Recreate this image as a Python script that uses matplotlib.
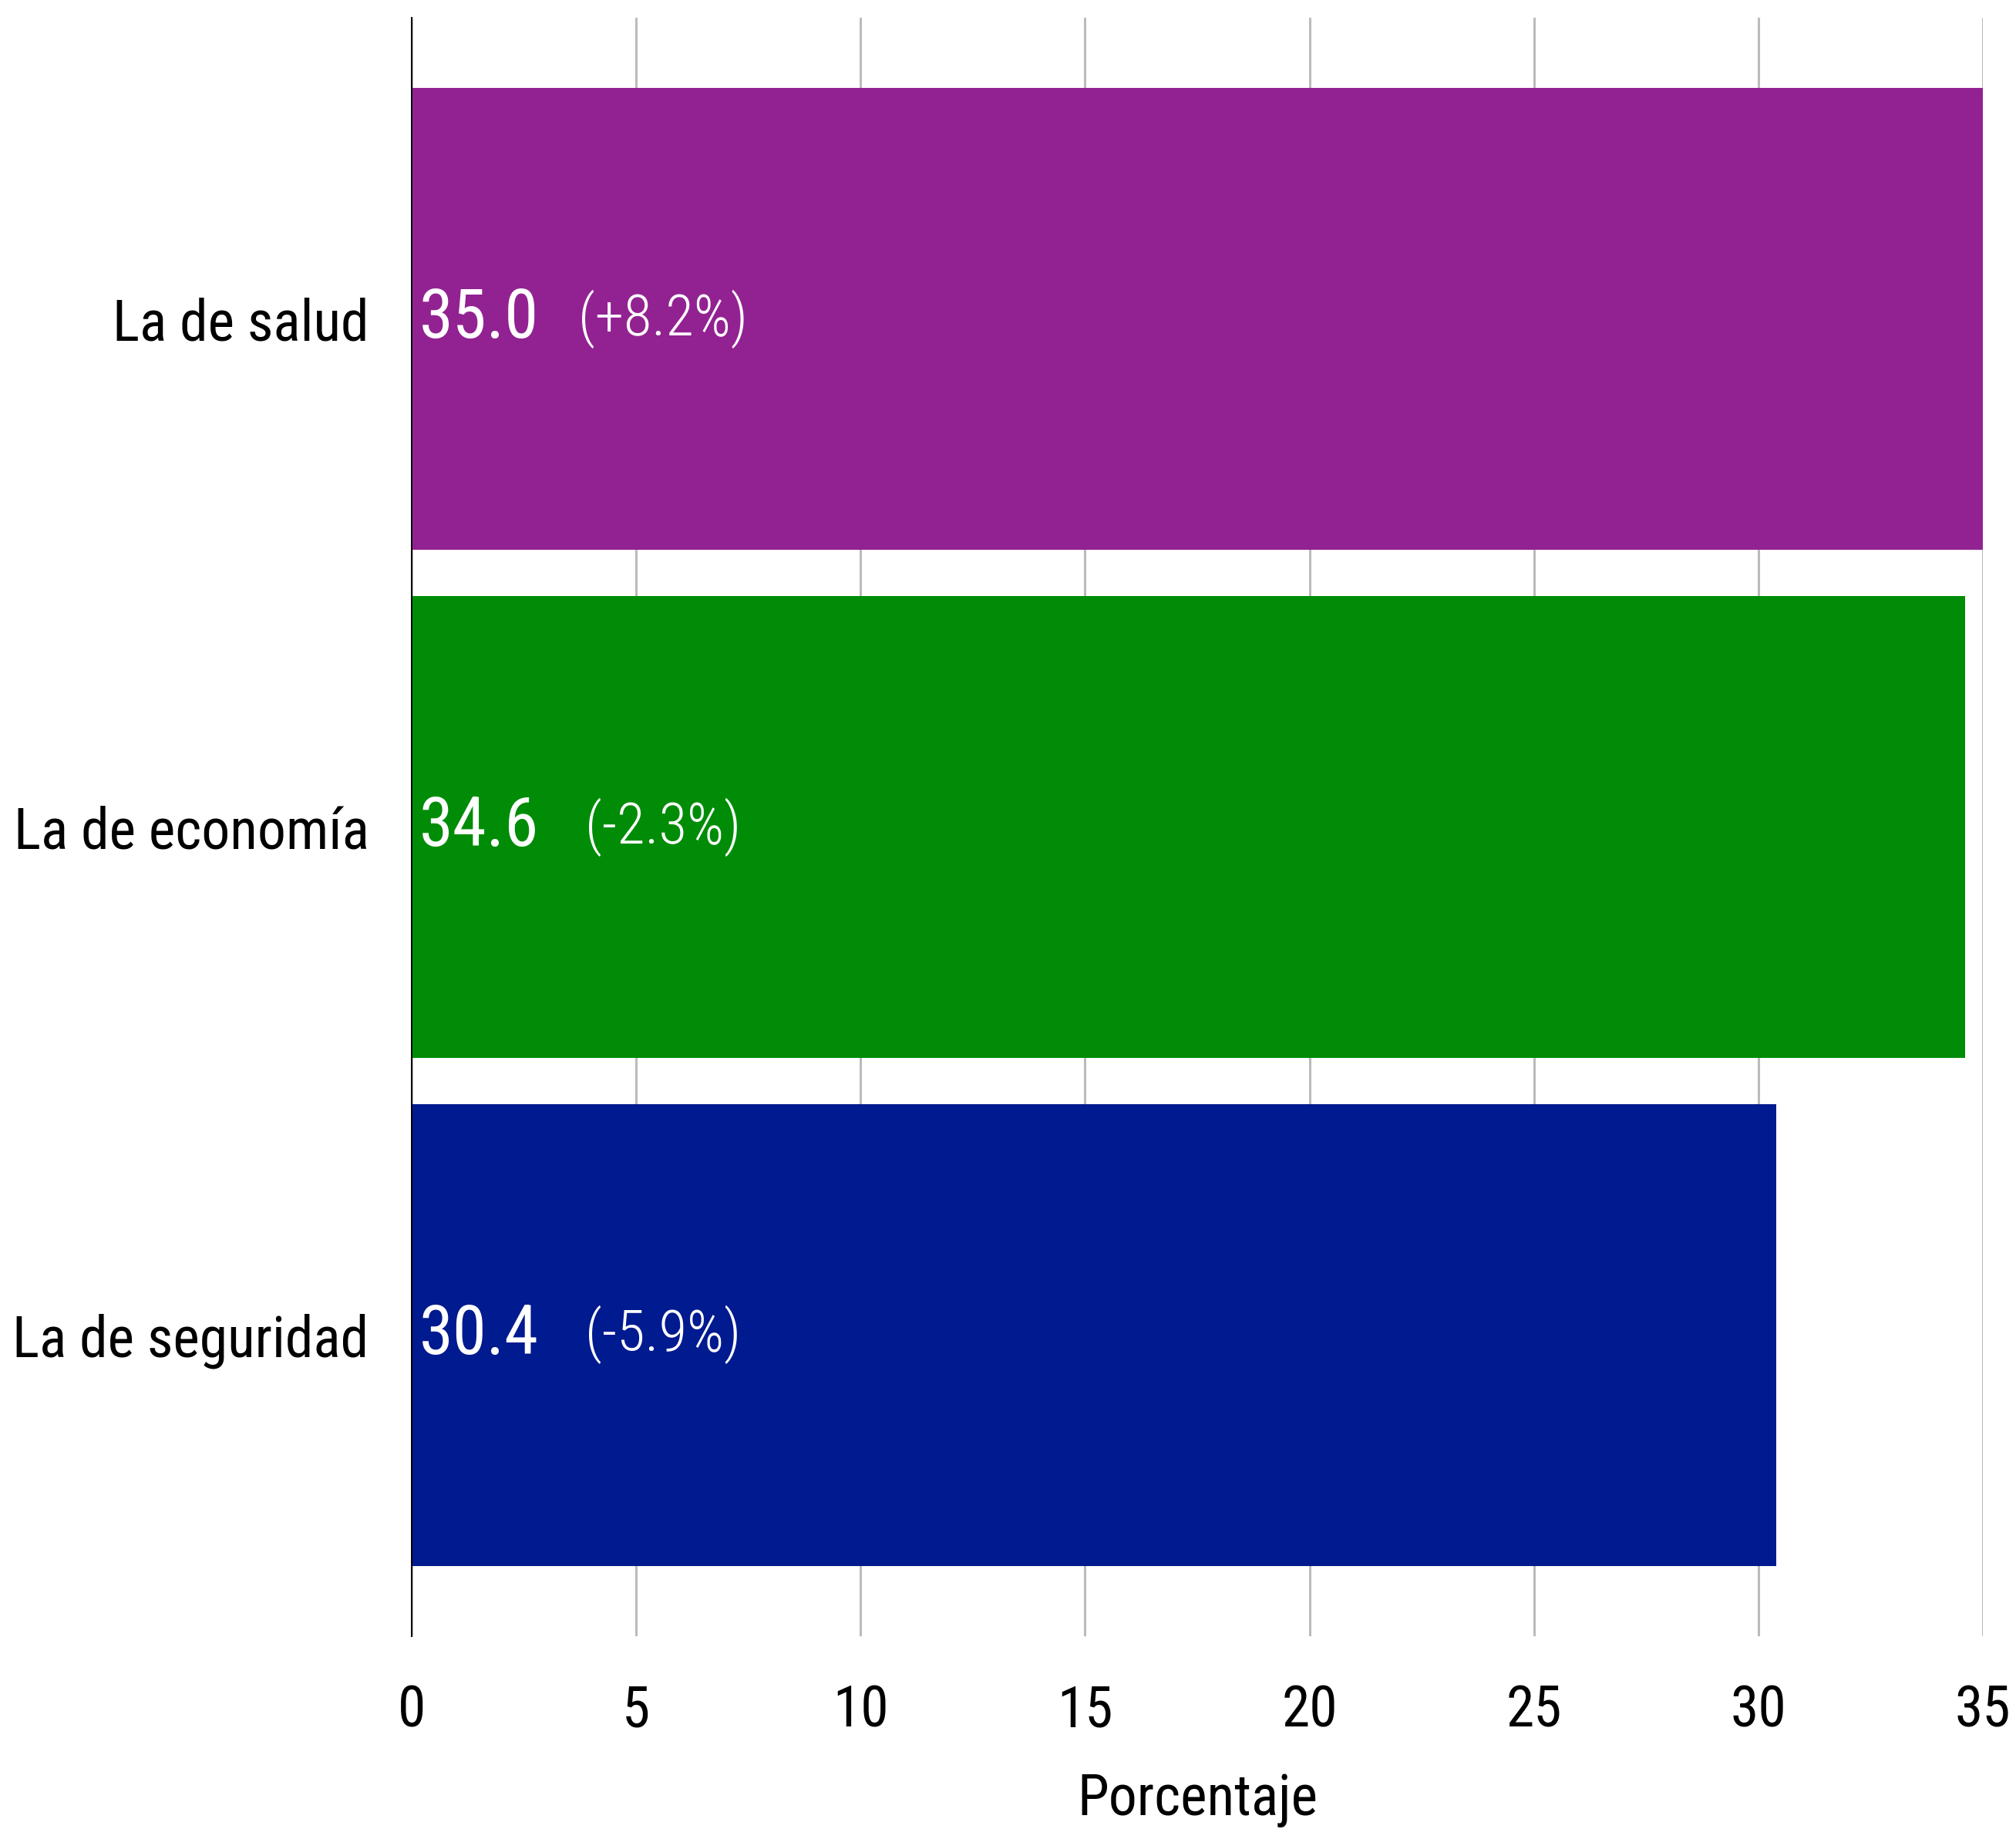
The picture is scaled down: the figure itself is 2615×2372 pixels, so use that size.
import matplotlib
matplotlib.use("Agg")
import matplotlib.pyplot as plt
from matplotlib import font_manager

categories = ["La de salud", "La de economía", "La de seguridad"]
values = [35.0, 34.6, 30.4]
changes = ["(+8.2%)", "(-2.3%)", "(-5.9%)"]
colors = ["#922291", "#008c07", "#001a8f"]
xticks = [0, 5, 10, 15, 20, 25, 30, 35]

avail = {f.name for f in font_manager.fontManager.ttflist}
fam = [f for f in ["Roboto Condensed", "Liberation Sans Narrow", "Roboto", "DejaVu Sans"] if f in avail]
plt.rcParams['font.family'] = fam

W, H = 2615, 2372
fig = plt.figure(figsize=(W / 100, H / 100), dpi=100)
ax = fig.add_axes([534 / W, 1 - 2122 / H, (2572 - 534) / W, (2122 - 23) / H])

ypos = list(range(len(categories)))
ax.barh(ypos, values, height=0.91, color=colors, zorder=2)
ax.set_ylim(len(categories) - 1 + 0.593, -0.593)
ax.set_xlim(0, 35)

ax.set_yticks(ypos)
ax.set_yticklabels(categories, fontsize=53)
ax.set_xticks(xticks)
ax.set_xticklabels([str(t) for t in xticks], fontsize=53)
ax.tick_params(axis='y', length=0, pad=40)
ax.tick_params(axis='x', length=0, pad=44)
ax.set_xlabel("Porcentaje", fontsize=53, labelpad=32)

ax.grid(axis='x', color='#bbbbbb', linewidth=2.2, zorder=0)
ax.set_axisbelow(True)
for s in ['top', 'right', 'bottom']:
    ax.spines[s].set_visible(False)
ax.spines['left'].set_color('black')
ax.spines['left'].set_linewidth(1.4)
ax.spines['left'].set_zorder(3)

for y, v, c in zip(ypos, values, changes):
    ax.annotate(f"{v:.1f}", xy=(0, y), xytext=(10, 0), textcoords='offset pixels',
                ha='left', va='center', color='white', fontsize=64, zorder=4)
    ax.annotate(c, xy=(0, y), xytext=(326, 0), textcoords='offset pixels',
                ha='center', va='center', color='white', fontsize=54,
                fontweight='light', zorder=4)

fig.savefig("out.png", dpi=100)
